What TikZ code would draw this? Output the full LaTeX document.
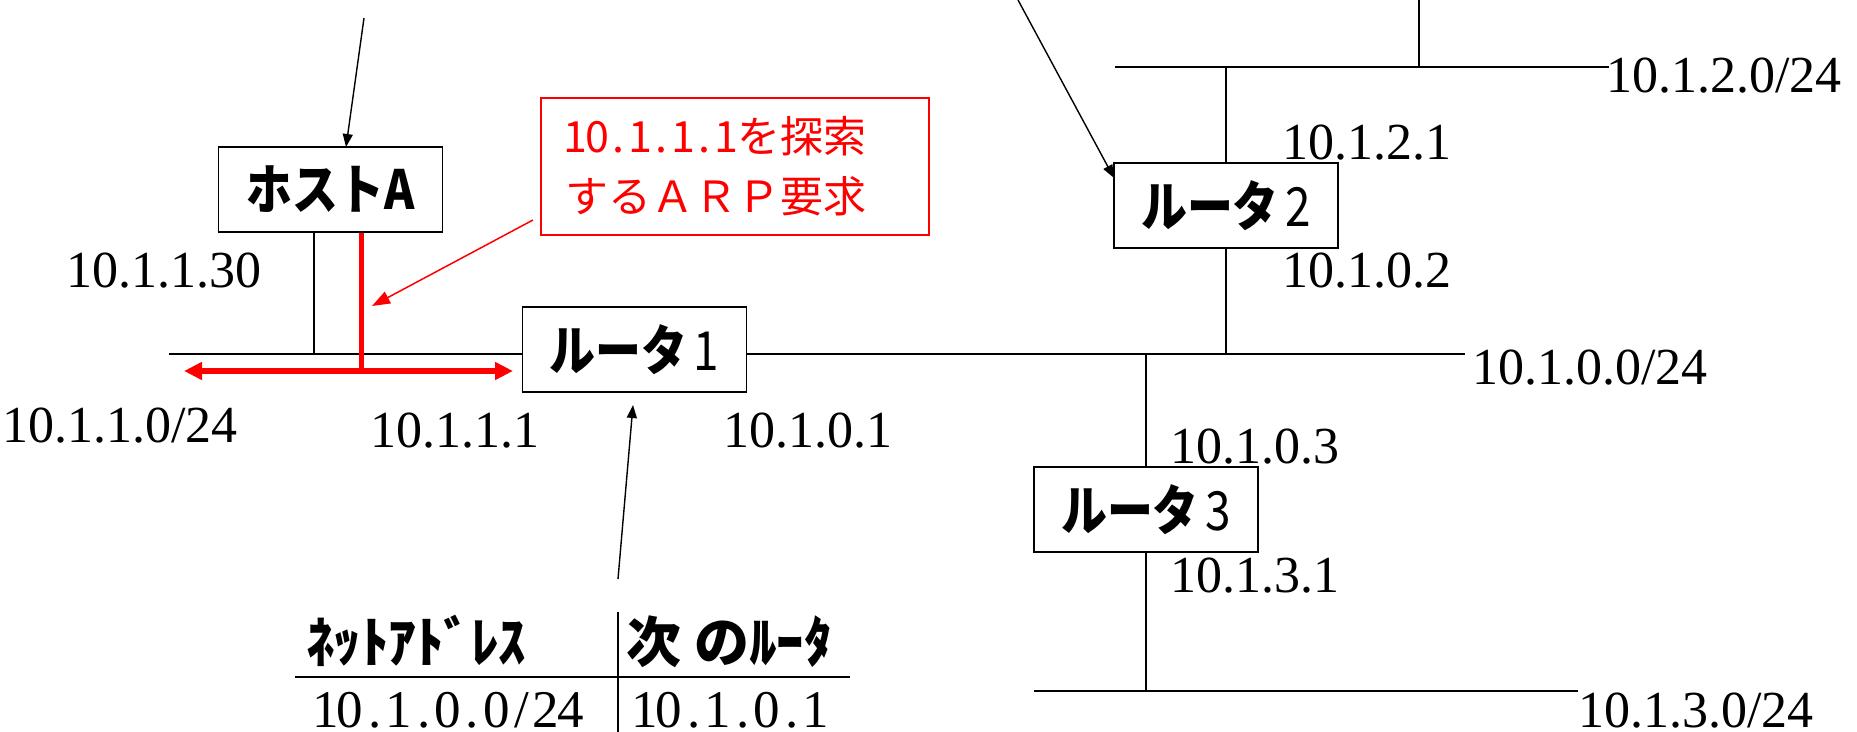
\documentclass[tikz,border=0pt]{standalone}
\usepackage{fontspec}
\usepackage{graphicx}
\setmainfont{Liberation Serif}
\newfontfamily\jp{Noto Sans CJK JP}
\newfontfamily\jpbox[FakeStretch=0.85]{Noto Sans CJK JP}
\usetikzlibrary{arrows.meta}
\newcommand\mcell[1]{\makebox[12.25pt][c]{#1}}
\newcommand\hcell[1]{\makebox[0.5em][c]{#1}}
\newcommand\thin[1]{\hspace{0.12em}{\mdseries #1}}
\begin{document}
\begin{tikzpicture}[x=0.5pt,y=-0.5pt,
  bus/.style={line width=1pt},
  stub/.style={line width=0.65pt},
  box/.style={draw, line width=0.8pt, minimum width=112pt, minimum height=42.5pt, inner sep=0pt, font=\jpbox\bfseries\fontsize{27}{30}\selectfont},
  ip/.style={anchor=base west, inner sep=0pt, text depth=0pt, font=\fontsize{26}{30}\selectfont},
  hdr/.style={anchor=base west, inner sep=0pt, text depth=0pt, font=\jp\bfseries\fontsize{27.5}{30}\selectfont},
  cell/.style={anchor=base west, inner sep=0pt, text depth=0pt, font=\fontsize{26.5}{30}\selectfont},
  arr/.style={line width=0.7pt, -{Triangle[length=6.5pt,width=5pt]}},
  redarr/.style={red, line width=0.75pt, -{Triangle[length=9pt,width=6.5pt]}},
  reqbox/.style={draw=red, line width=0.9pt, text=red, minimum width=194pt, minimum height=68.5pt, text width=170pt, inner xsep=12pt, inner ysep=0pt, align=left, font=\jp\fontsize{21.5}{30}\selectfont}
]
\useasboundingbox (0,0) rectangle (1857,732);

% boxes
\node[box] (hostA) at (330.5,189.5) {ホストA};
\node[box] (r1) at (634.5,349.5) {ルータ\thin{1}};
\node[box] (r2) at (1226,205.5) {ルータ\thin{2}};
\node[box] (r3) at (1146,509.5) {ルータ\thin{3}};
\node[reqbox] (req) at (735,166.5) {\hcell{1}\hcell{0}\hcell{.}\hcell{1}\hcell{.}\hcell{1}\hcell{.}\hcell{1}を探索\\するＡＲＰ要求};

% coordinates
\coordinate (b1) at (169,354);
\coordinate (b0) at (1465,354);
\coordinate (b2l) at (1115,67);
\coordinate (b2r) at (1609,67);
\coordinate (b3l) at (1034,691);
\coordinate (b3r) at (1578,691);
\coordinate (top) at (1419,0);
\coordinate (hs) at (314,354);

% buses
\draw[bus] (b1) -- (b1 -| r1.west);
\draw[bus] (r1.east |- b0) -- (b0);
\draw[bus] (b2l) -- (b2r);
\draw[bus] (b3l) -- (b3r);

% stubs
\draw[stub] (top) -- (top |- b2l);
\draw[stub] (r2.north) -- (r2.north |- b2l);
\draw[stub] (r2.south) -- (r2.south |- b0);
\draw[stub] (r3.north) -- (r3.north |- b0);
\draw[stub] (r3.south) -- (r3.south |- b3l);
\draw[stub] (hs |- hostA.south) -- (hs);

% black arrows
\coordinate (tA) at (364,18);
\coordinate (tAe) at (346,147);
\draw[arr] (tA) -- (tAe);
\coordinate (t2) at (1018,0);
\coordinate (t2e) at (1114,178);
\draw[arr] (t2) -- (t2e);
\coordinate (tb) at (618,579);
\coordinate (tbe) at (633,405);
\draw[arr] (tb) -- (tbe);

% red ARP
\coordinate (rv) at (361,371);
\draw[red, line width=2.5pt] (rv |- hostA.south) -- (rv);
\coordinate (rl) at (184,371);
\coordinate (rr) at (513,371);
\draw[red, line width=3pt, {Triangle[length=9pt,width=8.5pt]}-{Triangle[length=9pt,width=8.5pt]}] (rl) -- (rr);
\coordinate (ra) at (533,220);
\coordinate (rae) at (372,306);
\draw[redarr] (ra) -- (rae);

% address labels
\node[ip] (l1) at (66,288) {10.1.1.30};
\node[ip] (l2) at (2,443) {10.1.1.0/24};
\node[ip] (l3) at (370,447) {10.1.1.1};
\node[ip] (l4) at (723,447) {10.1.0.1};
\node[ip] (l5) at (1606,93) {10.1.2.0/24};
\node[ip] (l6) at (1282,160) {10.1.2.1};
\node[ip] (l7) at (1282,288) {10.1.0.2};
\node[ip] (l8) at (1472,385) {10.1.0.0/24};
\node[ip] (l9) at (1170,463) {10.1.0.3};
\node[ip] (l10) at (1170,592) {10.1.3.1};
\node[ip] (l11) at (1578,727) {10.1.3.0/24};

% routing table
\coordinate (tv1) at (618,612);
\coordinate (tv2) at (618,732);
\coordinate (th1) at (295,677);
\coordinate (th2) at (850,677);
\draw[stub] (tv1) -- (tv2);
\draw[stub] (th1) -- (th2);
\node[hdr] (h1) at (306,662) {ﾈｯﾄｱﾄﾞﾚｽ};
\node[hdr] (h2) at (626,662) {次 のﾙｰﾀ};
\node[cell] (c1) at (313,727) {\mcell{1}\mcell{0}\mcell{.}\mcell{1}\mcell{.}\mcell{0}\mcell{.}\mcell{0}\mcell{/}\mcell{2}\mcell{4}};
\node[cell] (c2) at (632,727) {\mcell{1}\mcell{0}\mcell{.}\mcell{1}\mcell{.}\mcell{0}\mcell{.}\mcell{1}};
\end{tikzpicture}
\end{document}
